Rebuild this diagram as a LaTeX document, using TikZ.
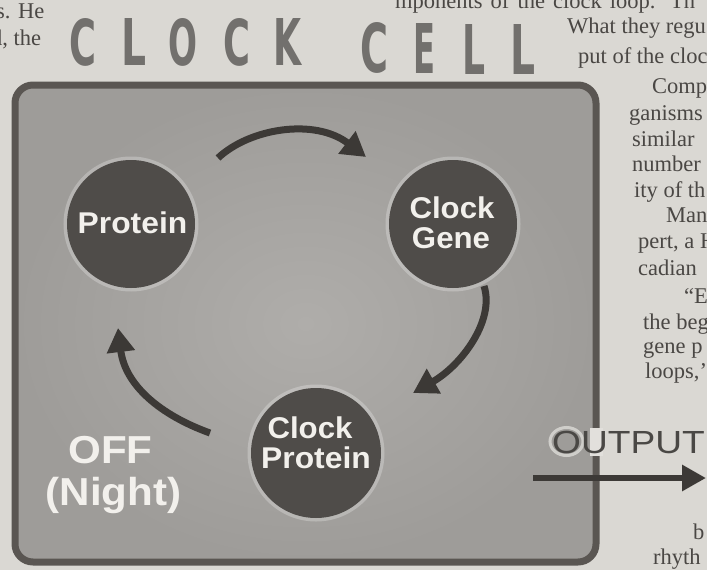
\documentclass[tikz,border=0pt]{standalone}
\usepackage{graphicx}
\usepackage{fontspec}
\setmainfont{Liberation Serif}
\newfontfamily\sansf{Liberation Sans}
\newfontfamily\titlef{DejaVu Sans}
\usetikzlibrary{arrows.meta}
\definecolor{paper}{HTML}{DAD8D3}
\definecolor{ink}{HTML}{4A4744}
\definecolor{boxin}{HTML}{AFADAA}
\definecolor{boxout}{HTML}{9E9C99}
\definecolor{boxline}{HTML}{5A5652}
\definecolor{ball}{HTML}{4F4C49}
\definecolor{arrowc}{HTML}{3C3936}
\definecolor{titlec}{HTML}{72706D}
\definecolor{whitet}{HTML}{F2F0EC}
\definecolor{outink}{HTML}{4A4845}
\definecolor{glowc}{HTML}{F1F0EC}
\definecolor{gapc}{HTML}{E2E0DC}
\tikzset{
  article/.style={anchor=base west, inner sep=0, text=ink, font=\fontsize{22.5}{22.5}\selectfont},
  titlel/.style={inner sep=0, text=titlec, font=\titlef\bfseries},
  cellbox/.style={draw=boxline, inner color=boxin, outer color=boxout, line width=7pt, rounded corners=18pt, inner sep=0},
  bubble/.style={circle, fill=ball, inner sep=0, preaction={draw=white, draw opacity=0.25, line width=7pt}},
  ctext/.style={anchor=base, inner sep=0, text=whitet, font=\sansf\bfseries\fontsize{30}{30}\selectfont},
  offtext/.style={anchor=base, inner sep=0, text=whitet, font=\sansf\bfseries\fontsize{39}{39}\selectfont},
  outtext/.style={anchor=base, inner sep=0, text=outink, font=\sansf\fontsize{32}{32}\selectfont},
  cyc/.style={draw=arrowc, line width=7pt, -{Triangle[length=24pt,width=27pt]}},
  outarrow/.style={draw=arrowc, line width=6pt, -{Triangle[length=24pt,width=25pt]}},
  halo/.style={draw=glowc, line width=3pt, opacity=0.6},
}
\begin{document}
\begin{tikzpicture}[x=1pt,y=-1pt]
\useasboundingbox (0,0) rectangle (707,570);
\clip (0,0) rectangle (707,570);
\fill[paper] (0,0) rectangle (707,570);

% article fragments
\node[article] (l1) at (-4,18) {s. He};
\node[article] (l2) at (-9,45) {d, the};
\node[article] (r0) at (395,9) {\makebox[300pt][s]{mponents of the clock loop. Th}};
\node[article] (r1) at (567,34) {What they regu};
\node[article] (r2) at (578,63) {put of the cloc};
\node[article] (r3) at (652,93) {Comp};
\node[article] (r4) at (629,120) {ganisms};
\node[article] (r5) at (632,146) {similar};
\node[article] (r6) at (632,171) {number};
\node[article] (r7) at (634,197) {ity of th};
\node[article] (r8) at (666,222) {Man};
\node[article] (r9) at (638,248) {pert, a H};
\node[article] (r10) at (638,275) {cadian};
\node[article] (r11) at (684,303) {“Ev};
\node[article] (r12) at (643,329) {the beg};
\node[article] (r13) at (643,353) {gene p};
\node[article] (r14) at (645,378) {loops,’};
\node[article] (r15) at (693,539) {b};
\node[article] (r16) at (653,564) {rhyth};

% title
\node[titlel] (t1) at (83.5,42) {\resizebox{27pt}{47pt}{C}};
\node[titlel] (t2) at (134.5,42) {\resizebox{25pt}{47pt}{L}};
\node[titlel] (t3) at (182.5,42) {\resizebox{29pt}{47pt}{O}};
\node[titlel] (t4) at (236.5,42) {\resizebox{27pt}{47pt}{C}};
\node[titlel] (t5) at (287,42) {\resizebox{28pt}{47pt}{K}};
\node[titlel] (t6) at (374,47.5) {\resizebox{28pt}{50pt}{C}};
\node[titlel] (t7) at (424,48) {\resizebox{22pt}{50pt}{E}};
\node[titlel] (t8) at (473.5,49) {\resizebox{23pt}{50pt}{L}};
\node[titlel] (t9) at (522.5,49) {\resizebox{25pt}{50pt}{L}};

% cell box
\node[cellbox, minimum width=581pt, minimum height=477pt] (cell) at (305.5,323.5) {};

% circles
\node[bubble, minimum size=128pt] (protein) at (131,224) {};
\node[bubble, minimum size=128pt] (gene) at (453,224) {};
\node[bubble, minimum size=130pt] (cprot) at (316,453) {};

\node[ctext] (proteinT) at (132.5,233) {\scalebox{1.06}[1]{Protein}};
\node[ctext] (geneT1) at (452,218) {\scalebox{1.04}[1]{Clock}};
\node[ctext] (geneT2) at (451,248) {\scalebox{1.04}[1]{Gene}};
\node[ctext] (cprotT1) at (310,438) {\scalebox{1.04}[1]{Clock}};
\node[ctext] (cprotT2) at (316,468) {\scalebox{1.06}[1]{Protein}};

% cycle arrows
\coordinate (a1s) at (218,158);
\coordinate (a1e) at (366,157);
\coordinate (a2s) at (484,286);
\coordinate (a2e) at (413,393);
\coordinate (a3s) at (210,433);
\coordinate (a3e) at (118,328);
\draw[cyc] (a1s) .. controls (250,128) and (315,118) .. (a1e);
\draw[cyc] (a2s) .. controls (495,320) and (462,365) .. (a2e);
\draw[cyc] (a3s) .. controls (160,415) and (125,385) .. (a3e);

% OFF (Night)
\node[offtext] (offT) at (110.5,463) {\scalebox{1.08}[1]{OFF}};
\node[offtext] (nightT) at (113.5,505) {\scalebox{1.08}[1]{(Night)}};

% output arrow
\coordinate (o1) at (533,478);
\coordinate (o2) at (706,478);
\draw[outarrow] (o1) -- (o2);

% OUTPUT with its light halo (gap in the border behind the U, ring round the O)
\fill[gapc] (589.5,428) rectangle (602.5,456);
\draw[halo] (566.5,441.5) ellipse [x radius=16.5pt, y radius=14pt];
\node[outtext] (outT) at (628.5,453) {\scalebox{1.16}[1]{OUTPUT}};
\end{tikzpicture}
\end{document}
